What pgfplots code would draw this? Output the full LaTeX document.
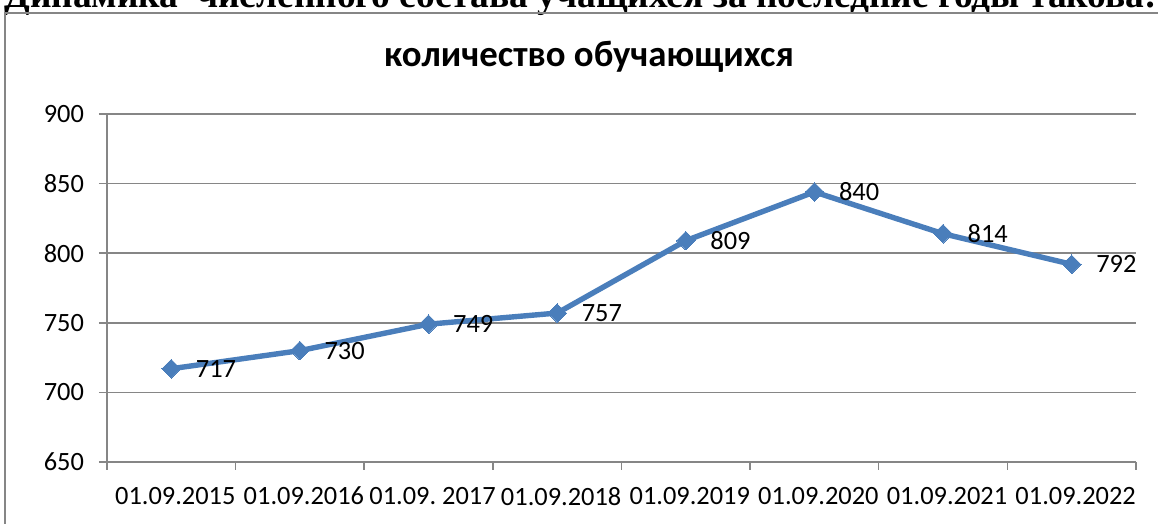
\documentclass[border=0pt]{standalone}
\usepackage{fontspec}
\setmainfont{Carlito}
\newfontfamily\timesfont{Liberation Serif}
\usepackage{pgfplots}
\pgfplotsset{compat=1.18}
\definecolor{ln}{HTML}{4A7EBB}
\definecolor{gr}{HTML}{868686}
\pgfplotstableread{
x y lab
1 717 717
2 730 730
3 749 749
4 757 757
5 809 809
6 844 840
7 814 814
8 792 792
}\datatable
\begin{document}
\begin{tikzpicture}[x=1pt,y=1pt]
\begin{axis}[
  at={(53.5pt,31pt)}, anchor=south west,
  scale only axis, width=514.5pt, height=174pt,
  xmin=0.5, xmax=8.5, ymin=650, ymax=900,
  ytick={650,700,...,900},
  xtick={1,...,8},
  xticklabels={01.09.2015,01.09.2016,{01.09.\ 2017},01.09.2018,01.09.2019,01.09.2020,01.09.2021,01.09.2022},
  minor xtick={0.5,1.5,...,8.5},
  major x tick style={draw=none},
  minor x tick style={gr, line width=0.75pt},
  major y tick style={gr, line width=0.75pt},
  tick align=outside,
  major tick length=4pt, minor tick length=4pt,
  axis lines*=left,
  axis line style={gr, line width=0.75pt},
  ymajorgrids, grid style={gr, line width=0.75pt},
  ticklabel style={font=\fontsize{13.2}{15}\selectfont},
  /pgf/number format/assume math mode=true,
  yticklabel style={xshift=-4pt},
  xticklabel style={yshift=-5pt, xshift=2pt},
  clip=false,
]
\addplot[ln, line width=2.7pt, mark=square*, mark size=3.3pt, mark options={rotate=45, fill=ln, draw=ln, line width=0pt},
  point meta=explicit symbolic,
  nodes near coords={\pgfplotspointmeta},
  nodes near coords style={anchor=west, xshift=9pt, text=black, font=\fontsize{13.2}{15}\selectfont}]
  table[x=x, y=y, meta=lab] {\datatable};
\end{axis}
\node[anchor=base, font=\bfseries\fontsize{18.4}{22}\selectfont] at (294.5,228.5) {количество обучающихся};
\node[anchor=base west, inner sep=0pt, font=\timesfont\bfseries\fontsize{18.7}{22}\selectfont] at (2,258) {Динамика\ \ численного состава учащихся за последние годы такова:};
\draw[gr, line width=0.75pt] (2.5,-20) rectangle (620,255.5);
\pgfresetboundingbox
\path[use as bounding box] (0,0) rectangle (579,262);
\end{tikzpicture}
\end{document}
